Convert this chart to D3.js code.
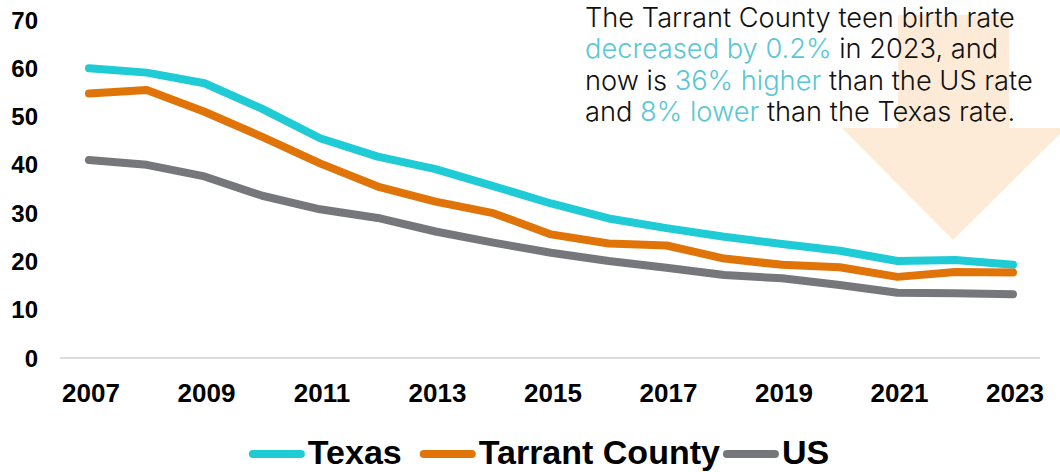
<!DOCTYPE html>
<html>
<head>
    <meta charset='utf-8'/>
    <title>Teen birth rate</title>
    <style>
        body { margin: 0; background: #fff; }
        .tick-y, .tick-x { font-family: "Liberation Sans", Arial, sans-serif; font-weight: bold; fill: #000; }
        .legend text { font-family: "Liberation Sans", Arial, sans-serif; font-weight: bold; fill: #000; }
        .note { font-family: Inter, "Open Sans", sans-serif; font-weight: 300; fill: #111; }
        .note .hl { fill: #59c7d4; }
    </style>
</head>
<body>
<div id="chart"></div>

<script src="https://d3js.org/d3.v7.min.js"></script>
<script type="text/javascript">

    // data
    var years = d3.range(2007, 2024);
    var texas   = [60.0, 59.1, 56.9, 51.6, 45.5, 41.7, 39.1, 35.6, 32.0, 28.9, 26.9, 25.1, 23.6, 22.2, 20.1, 20.3, 19.3];
    var tarrant = [54.8, 55.5, 51.0, 45.8, 40.3, 35.5, 32.4, 30.0, 25.6, 23.7, 23.3, 20.6, 19.3, 18.8, 16.8, 17.8, 17.7];
    var us      = [41.0, 40.0, 37.6, 33.6, 30.8, 29.0, 26.2, 23.9, 21.8, 20.1, 18.7, 17.2, 16.5, 15.1, 13.5, 13.4, 13.2];
    var seriesNames = ["Texas", "Tarrant County", "US"];
    var seriesColors = ["#1fcbd4", "#e07408", "#76777b"];
    var yTicks = [0, 10, 20, 30, 40, 50, 60, 70];
    var xTicks = [2007, 2009, 2011, 2013, 2015, 2017, 2019, 2021, 2023];

    // note text, split into plain / highlighted pieces
    var noteLines = [
        [["The Tarrant County teen birth rate", false]],
        [["decreased by 0.2%", true], [" in 2023, and", false]],
        [["now is ", false], ["36% higher", true], [" than the US rate", false]],
        [["and ", false], ["8% lower", true], [" than the Texas rate.", false]]
    ];

    // dims
    var svg_dx = 1060,
        svg_dy = 472;

    var x = d3.scaleLinear().domain([2007, 2023]).range([89, 1013]),
        y = d3.scaleLinear().domain([0, 70]).range([358, 20]);

    var svg = d3.select("#chart")
        .append("svg")
        .attr("width", svg_dx)
        .attr("height", svg_dy);

    /* background arrow */
    var arrowPts = [[898, 15], [1009, 15], [1009, 128], [1066, 128], [953, 240], [842, 128], [898, 128]];
    svg.append("path")
        .attr("d", "M" + arrowPts.join("L") + "Z")
        .attr("fill", "#fdebd8");

    /* baseline */
    svg.append("line")
        .attr("x1", 60)
        .attr("x2", 1040)
        .attr("y1", y(0))
        .attr("y2", y(0))
        .attr("stroke", "#dcdcdc")
        .attr("stroke-width", 2);

    /* y labels */
    svg.selectAll("text.tick-y")
        .data(yTicks)
        .enter()
        .append("text")
        .attr("class", "tick-y")
        .attr("x", 38)
        .attr("y", d => y(d))
        .attr("dy", "0.36em")
        .attr("text-anchor", "end")
        .style("font-size", "24px")
        .text(d => d);

    /* x labels */
    svg.selectAll("text.tick-x")
        .data(xTicks)
        .enter()
        .append("text")
        .attr("class", "tick-x")
        .attr("x", d => x(d) + 2)
        .attr("y", 402)
        .attr("text-anchor", "middle")
        .style("font-size", "26px")
        .text(d => d);

    /* lines */
    var line = d3.line()
        .x((d, i) => x(years[i]))
        .y(d => y(d));

    [texas, tarrant, us].forEach((vals, i) => {
        svg.append("path")
            .datum(vals)
            .attr("d", line)
            .attr("fill", "none")
            .attr("stroke", seriesColors[i])
            .attr("stroke-width", 8)
            .attr("stroke-linecap", "round")
            .attr("stroke-linejoin", "round");
    });

    /* note */
    var note = svg.append("text")
        .attr("class", "note")
        .style("font-size", "25px");

    var firstLine;
    noteLines.forEach((parts, i) => {
        parts.forEach((p, j) => {
            var t = note.append("tspan")
                .attr("class", p[1] ? "hl" : null)
                .text(p[0]);
            if (j == 0) t.attr("x", 585).attr("y", 27 + i * 31.3);
            if (i == 0) firstLine = t;
        });
    });
    // size the note so its first line spans the same width as the original
    var w0 = firstLine.node().getComputedTextLength();
    note.style("font-size", (25 * 430 / w0).toFixed(2) + "px");

    /* legend */
    var legend = svg.append("g").attr("class", "legend");
    var gapsAfter = [18, 3, 0];
    var cursor = 0;
    seriesNames.forEach((name, i) => {
        legend.append("line")
            .attr("x1", cursor + 4)
            .attr("x2", cursor + 52)
            .attr("y1", 454)
            .attr("y2", 454)
            .attr("stroke", seriesColors[i])
            .attr("stroke-width", 8)
            .attr("stroke-linecap", "round");
        var t = legend.append("text")
            .attr("x", cursor + 59)
            .attr("y", 464)
            .style("font-size", "34px")
            .text(name);
        cursor += 59 + t.node().getComputedTextLength() + gapsAfter[i];
    });
    legend.attr("transform", "translate(" + (539 - cursor / 2) + ",0)");

</script>

</body>
</html>
